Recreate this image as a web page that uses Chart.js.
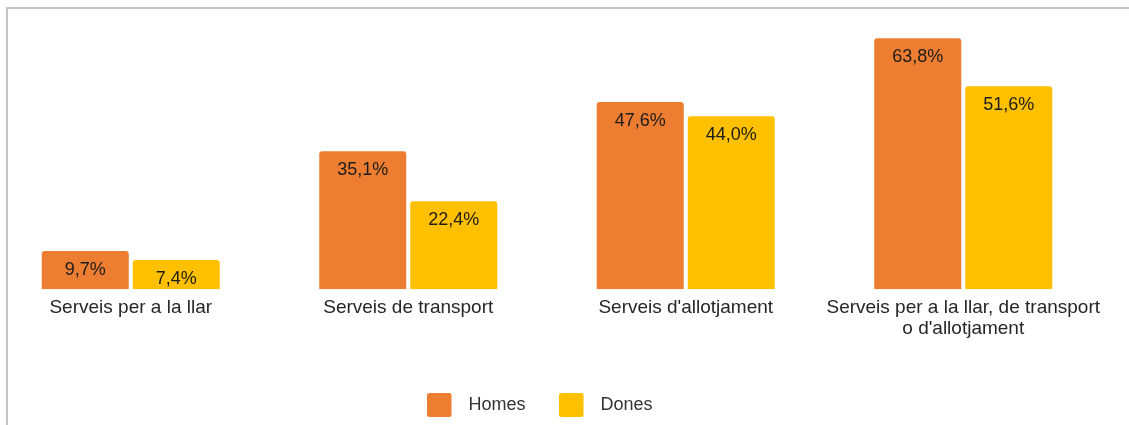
<!DOCTYPE html>
<html>
<head>
<meta charset="utf-8">
<script src="https://cdn.jsdelivr.net/npm/chart.js@4/dist/chart.umd.min.js"></script>
<style>
    html, body { margin: 0; padding: 0; background: #fff; overflow: hidden; }
    body { width: 1129px; height: 425px; position: relative; }
    .frame {
        position: absolute; left: 6px; top: 7px; right: 0; bottom: 0;
        border-top: 2px solid #c4c4c4; border-left: 2px solid #c4c4c4;
    }
    .wrap { position: absolute; left: -8px; top: 0; width: 1110px; height: 424px; }
</style>
</head>
<body>
<div class="frame"></div>
<div class="wrap"><canvas id="chart"></canvas></div>
<script>
// Dades
const categories = [
    'Serveis per a la llar',
    'Serveis de transport',
    "Serveis d'allotjament",
    ["Serveis per a la llar, de transport", "o d'allotjament"]
];
const homes = [9.7, 35.1, 47.6, 63.8];
const dones = [7.4, 22.4, 44.0, 51.6];
const seriesNames = ['Homes', 'Dones'];
const colors = ['#ED7D31', '#FFC000'];

const FONT = '"Liberation Sans", Arial, sans-serif';
const fmt = v => v.toFixed(1).replace('.', ',') + '%';

// quadre de llegenda: 24x24 alineat a l'esquerra, amb marge a la dreta
function legendSwatch(color) {
    const c = document.createElement('canvas');
    c.width = 32; c.height = 24;
    const g = c.getContext('2d');
    g.fillStyle = color;
    g.beginPath();
    g.roundRect(0, 0, 24, 24, 2);
    g.fill();
    return c;
}
const swatches = colors.map(legendSwatch);

// Etiquetes dins de les barres
const valueLabels = {
    id: 'valueLabels',
    afterLayout(chart) {
        // la llegenda de l'original no esta del tot centrada
        chart.legend.left -= 7;
        chart.legend.right -= 7;
    },
    afterDatasetsDraw(chart) {
        const ctx = chart.ctx;
        ctx.save();
        ctx.font = '18px ' + FONT;
        ctx.fillStyle = '#1c1c1c';
        ctx.textAlign = 'center';
        ctx.textBaseline = 'middle';
        chart.data.datasets.forEach((ds, i) => {
            chart.getDatasetMeta(i).data.forEach((bar, j) => {
                ctx.fillText(fmt(ds.data[j]), bar.x, bar.y + 19);
            });
        });
        ctx.restore();
    }
};

new Chart(document.getElementById('chart'), {
    type: 'bar',
    data: {
        labels: categories,
        datasets: [
            { label: seriesNames[0], data: homes, backgroundColor: colors[0], pointStyle: swatches[0] },
            { label: seriesNames[1], data: dones, backgroundColor: colors[1], pointStyle: swatches[1] }
        ]
    },
    options: {
        responsive: true,
        maintainAspectRatio: false,
        animation: false,
        layout: { padding: { top: 14, bottom: 0 } },
        datasets: {
            bar: {
                categoryPercentage: 0.656,
                barPercentage: 0.956,
                borderRadius: 3,
                borderSkipped: 'bottom'
            }
        },
        scales: {
            x: {
                grid: { display: false },
                border: { display: false },
                afterFit: scale => { scale.height += 23; },
                ticks: {
                    color: '#262626',
                    padding: 0,
                    maxRotation: 0,
                    font: { family: FONT, size: 19, lineHeight: 1.1 }
                }
            },
            y: { display: false, min: 0, max: 70 }
        },
        plugins: {
            legend: {
                position: 'bottom',
                fullSize: false,
                labels: {
                    usePointStyle: true,
                    pointStyleWidth: 32,
                    padding: 34,
                    color: '#333',
                    font: { family: FONT, size: 18 }
                }
            },
            tooltip: { enabled: false }
        }
    },
    plugins: [valueLabels]
});
</script>
</body>
</html>
